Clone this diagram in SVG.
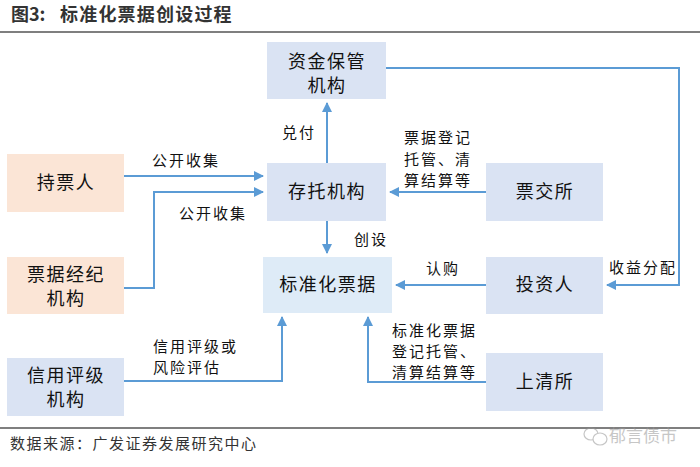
<svg xmlns="http://www.w3.org/2000/svg" width="700" height="467" viewBox="0 0 700 467">
<style>
.t{font-family:"Noto Sans CJK SC","Noto Sans",sans-serif;fill:#111}
.n{font-size:18px;letter-spacing:1.5px;text-anchor:middle}
.l{font-size:15px;letter-spacing:2px}
.b{fill:#dae3f3}
.bl{fill:#deebf7}
.p{fill:#fbe5d6}
.c{fill:none;stroke:#5b9bd5;stroke-width:2}
</style>
<defs>
<marker id="ah" viewBox="0 0 10 10" refX="9" refY="5" markerWidth="5" markerHeight="5" orient="auto" markerUnits="strokeWidth">
<path d="M0,0 L10,5 L0,10 z" fill="#5b9bd5"/>
</marker>
</defs>
<rect width="700" height="467" fill="#fff"/>
<g id="title">
<text class="t" x="11" y="21" style="font-size:18px;font-weight:bold;fill:#333">图3:</text>
<text class="t" x="60" y="21" style="font-size:18px;font-weight:bold;letter-spacing:1.2px;fill:#333">标准化票据创设过程</text>
</g>
<line x1="0" y1="32" x2="700" y2="32" stroke="#555" stroke-width="1.5"/>
<line x1="0" y1="428" x2="700" y2="428" stroke="#555" stroke-width="1.5"/>
<text class="t" x="10" y="449" style="font-size:15px;letter-spacing:1.5px;fill:#333">数据来源：广发证券发展研究中心</text>
<g id="watermark" opacity="0.55">
<ellipse cx="591" cy="434" rx="7" ry="6" fill="none" stroke="#999" stroke-width="1.2"/>
<ellipse cx="600" cy="439" rx="7" ry="6" fill="#fff" stroke="#999" stroke-width="1.2"/>
<text class="t" x="609" y="442" style="font-size:17px;fill:#999">郁言债市</text>
</g>

<g id="connectors">
<path class="c" d="M327,163 V103" marker-end="url(#ah)"/>
<path class="c" d="M386,68 H679 V285 H607" marker-end="url(#ah)"/>
<path class="c" d="M124,176 H263" marker-end="url(#ah)"/>
<path class="c" d="M124,288 H154 V192 H263" marker-end="url(#ah)"/>
<path class="c" d="M486,192 H390" marker-end="url(#ah)"/>
<path class="c" d="M327,221 V253" marker-end="url(#ah)"/>
<path class="c" d="M486,285 H396" marker-end="url(#ah)"/>
<path class="c" d="M124,381 H282 V317" marker-end="url(#ah)"/>
<path class="c" d="M486,382 H368 V317" marker-end="url(#ah)"/>
<text class="t l" x="282" y="138">兑付</text>
<text class="t l" x="404" y="143">票据登记</text>
<text class="t l" x="404" y="165">托管、清</text>
<text class="t l" x="404" y="186">算结算等</text>
<text class="t l" x="152" y="166">公开收集</text>
<text class="t l" x="179" y="219">公开收集</text>
<text class="t l" x="354" y="245">创设</text>
<text class="t l" x="426" y="274">认购</text>
<text class="t l" x="609" y="273">收益分配</text>
<text class="t l" x="153" y="352">信用评级或</text>
<text class="t l" x="153" y="373">风险评估</text>
<text class="t l" x="392" y="336">标准化票据</text>
<text class="t l" x="392" y="357">登记托管、</text>
<text class="t l" x="392" y="378">清算结算等</text>
</g>

<g id="node-zjbg">
<rect class="b" x="267" y="42" width="119" height="57"/>
<text class="t n" x="327" y="68">资金保管</text>
<text class="t n" x="327" y="92">机构</text>
</g>
<g id="node-ctjg">
<rect class="b" x="267" y="163" width="119" height="58"/>
<text class="t n" x="327" y="198">存托机构</text>
</g>
<g id="node-pjs">
<rect class="b" x="486" y="163" width="117" height="58"/>
<text class="t n" x="545" y="198">票交所</text>
</g>
<g id="node-bzhpj">
<rect class="bl" x="263" y="257" width="129" height="56"/>
<text class="t n" x="328" y="291">标准化票据</text>
</g>
<g id="node-tzr">
<rect class="b" x="486" y="257" width="117" height="57"/>
<text class="t n" x="545" y="291">投资人</text>
</g>
<g id="node-cpr">
<rect class="p" x="7" y="154" width="117" height="58"/>
<text class="t n" x="66" y="189">持票人</text>
</g>
<g id="node-pjjj">
<rect class="p" x="7" y="257" width="117" height="57"/>
<text class="t n" x="66" y="281">票据经纪</text>
<text class="t n" x="66" y="305">机构</text>
</g>
<g id="node-xypj">
<rect class="b" x="7" y="358" width="117" height="58"/>
<text class="t n" x="66" y="382">信用评级</text>
<text class="t n" x="66" y="406">机构</text>
</g>
<g id="node-sqs">
<rect class="b" x="486" y="353" width="117" height="58"/>
<text class="t n" x="545" y="388">上清所</text>
</g>
</svg>
